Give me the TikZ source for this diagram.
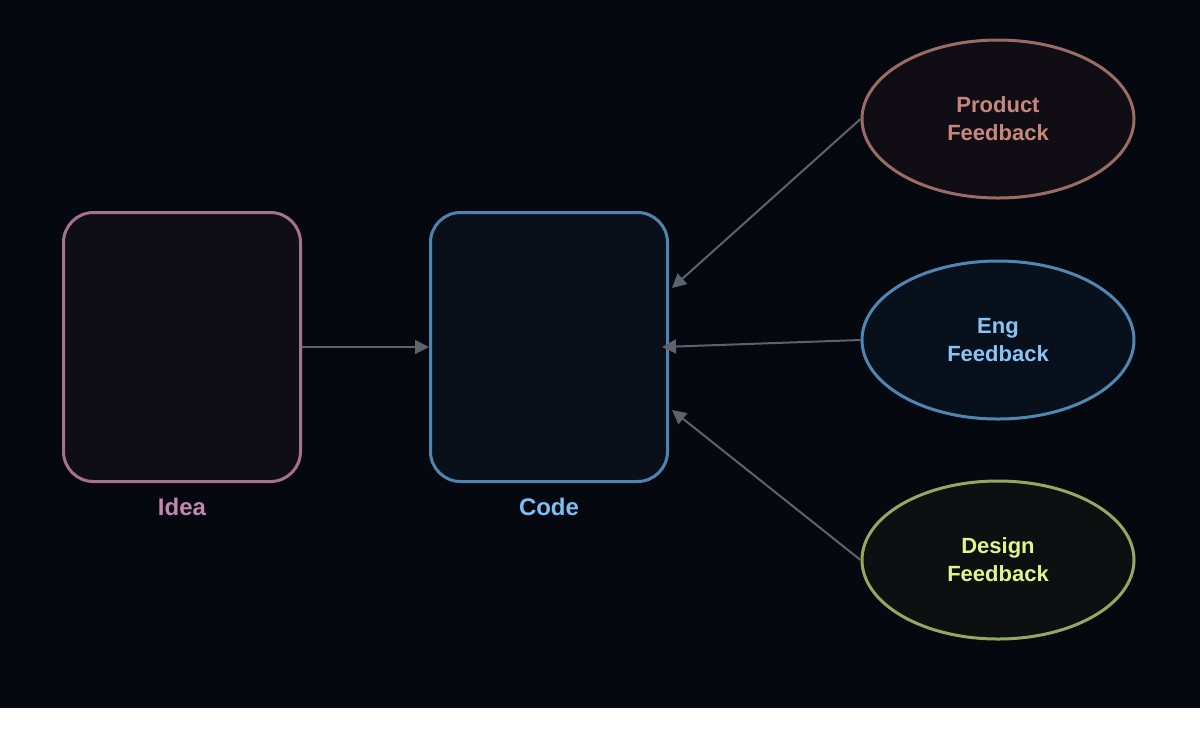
\documentclass[tikz,border=0pt]{standalone}
\usepackage{fontspec}
\setmainfont{Liberation Sans}
\usetikzlibrary{arrows.meta,positioning,shapes.geometric}
\definecolor{bgdark}{HTML}{05080F}
\definecolor{linkgray}{HTML}{5D626B}
\definecolor{idealine}{HTML}{A6708F}
\definecolor{ideatext}{HTML}{C586B0}
\definecolor{codeline}{HTML}{4F84B0}
\definecolor{codetext}{HTML}{7DBFF5}
\definecolor{prodline}{HTML}{9A6C66}
\definecolor{prodtext}{HTML}{C9877C}
\definecolor{engline}{HTML}{4F86B3}
\definecolor{engtext}{HTML}{88C4F8}
\definecolor{desline}{HTML}{93A860}
\definecolor{destext}{HTML}{E0F58E}
\tikzset{
  box/.style = {draw, line width = 1.5pt, rounded corners = 15pt,
                minimum width = 118.5pt, minimum height = 134.5pt},
  bubble/.style = {ellipse, draw, line width = 1.5pt, align = center,
                   minimum width = 136pt, minimum height = 79pt,
                   font = \fontsize{11}{14}\selectfont\bfseries},
  caption/.style = {font = \fontsize{12}{14}\selectfont\bfseries},
  link/.style = {draw = linkgray, line width = 1pt, -{Triangle[length=7pt,width=7pt]}}
}
\begin{document}
\begin{tikzpicture}[x = 0.5pt, y = -0.5pt]

  % background
  \useasboundingbox (0,0) rectangle (1200,730);
  \fill[white] (0,0) rectangle (1200,730);
  \fill[bgdark] (0,0) rectangle (1200,708);

  % boxes
  \node[box, draw = idealine, fill = {rgb,255:red,15;green,13;blue,22}] (idea) at (182,347) {};
  \node[box, draw = codeline, fill = {rgb,255:red,10;green,16;blue,26}] (code) at (549,347) {};
  \node[caption, text = ideatext] (idealabel) at (182,507) {Idea};
  \node[caption, text = codetext] (codelabel) at (549,507) {Code};

  % feedback
  \node[bubble, draw = prodline, text = prodtext, fill = {rgb,255:red,16;green,14;blue,20}] (product) at (998,119) {Product\\Feedback};
  \node[bubble, draw = engline, text = engtext, fill = {rgb,255:red,8;green,17;blue,27}] (eng) at (998,340) {Eng\\Feedback};
  \node[bubble, draw = desline, text = destext, fill = {rgb,255:red,13;green,15;blue,16}] (design) at (998,560) {Design\\Feedback};

  % arrow ends on the code box
  \coordinate (codetop) at (672,288);
  \coordinate (codemid) at (662,347);
  \coordinate (codelow) at (672,410);

  \draw[link] (idea.east) -- (code.west);
  \draw[link] (product.west) -- (codetop);
  \draw[link] (eng.west) -- (codemid);
  \draw[link] (design.west) -- (codelow);

\end{tikzpicture}
\end{document}
